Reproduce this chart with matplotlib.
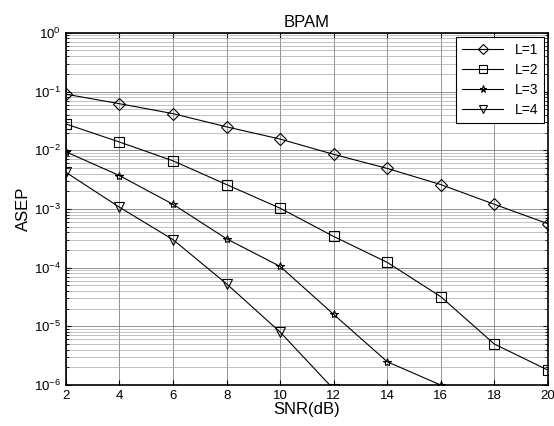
import numpy as np
import matplotlib
matplotlib.use("Agg")
import matplotlib.pyplot as plt
from matplotlib.ticker import LogLocator, NullFormatter

plt.rcParams['font.family'] = ['Liberation Sans', 'DejaVu Sans']

snr = [2, 4, 6, 8, 10, 12, 14, 16, 18, 20]
asep_l1 = [0.09, 0.062, 0.042, 0.025, 0.0155, 0.0085, 0.0049, 0.0026, 0.0012, 0.00056]
asep_l2 = [0.028, 0.0138, 0.0066, 0.0026, 0.00103, 0.00034, 0.000123, 3.2e-5, 5e-6, 1.8e-6]
asep_l3 = [0.0094, 0.0037, 0.0012, 0.00031, 0.000105, 1.6e-5, 2.5e-6, 1.0e-6]
asep_l4 = [0.0042, 0.00107, 0.0003, 5.3e-5, 8e-6, 8.5e-7]
labels = ['L=1', 'L=2', 'L=3', 'L=4']
markers = ['D', 's', '*', 'v']

fig = plt.figure(figsize=(5.54, 4.26), dpi=100)
ax = fig.add_axes([0.119, 0.096, 0.870, 0.827])

series = [asep_l1, asep_l2, asep_l3, asep_l4]
msizes = [6, 6.5, 6, 7]
for ys, lab, mk, ms in zip(series, labels, markers, msizes):
    ax.semilogy(snr[:len(ys)], ys, color='black', linewidth=0.8, marker=mk,
                markersize=ms, markerfacecolor='none', markeredgecolor='black',
                markeredgewidth=0.8, label=lab)

ax.set_xlim(2, 20)
ax.set_ylim(1e-6, 1)
ax.set_xticks(snr)
ax.yaxis.set_major_locator(LogLocator(base=10, numticks=10))
ax.yaxis.set_minor_locator(LogLocator(base=10, subs=np.arange(2, 10), numticks=10))
ax.yaxis.set_minor_formatter(NullFormatter())

ax.grid(True, which='major', color='#808080', linewidth=0.6)
ax.grid(True, which='minor', axis='y', color='#a8a8a8', linewidth=0.5)
ax.tick_params(which='both', direction='in', top=True, right=True, labelsize=9.5)
for s in ax.spines.values():
    s.set_linewidth(1.2)

ax.set_title('BPAM', fontsize=12, pad=4)
ax.set_xlabel('SNR(dB)', fontsize=12, labelpad=0)
ax.set_ylabel('ASEP', fontsize=12, labelpad=2)

leg = ax.legend(loc='upper right', fontsize=10, fancybox=False, framealpha=1,
                edgecolor='black', handlelength=3.0, borderaxespad=0.3,
                markerscale=0.85, labelspacing=0.45)
leg.get_frame().set_linewidth(0.8)

fig.savefig('out.png', dpi=100)
